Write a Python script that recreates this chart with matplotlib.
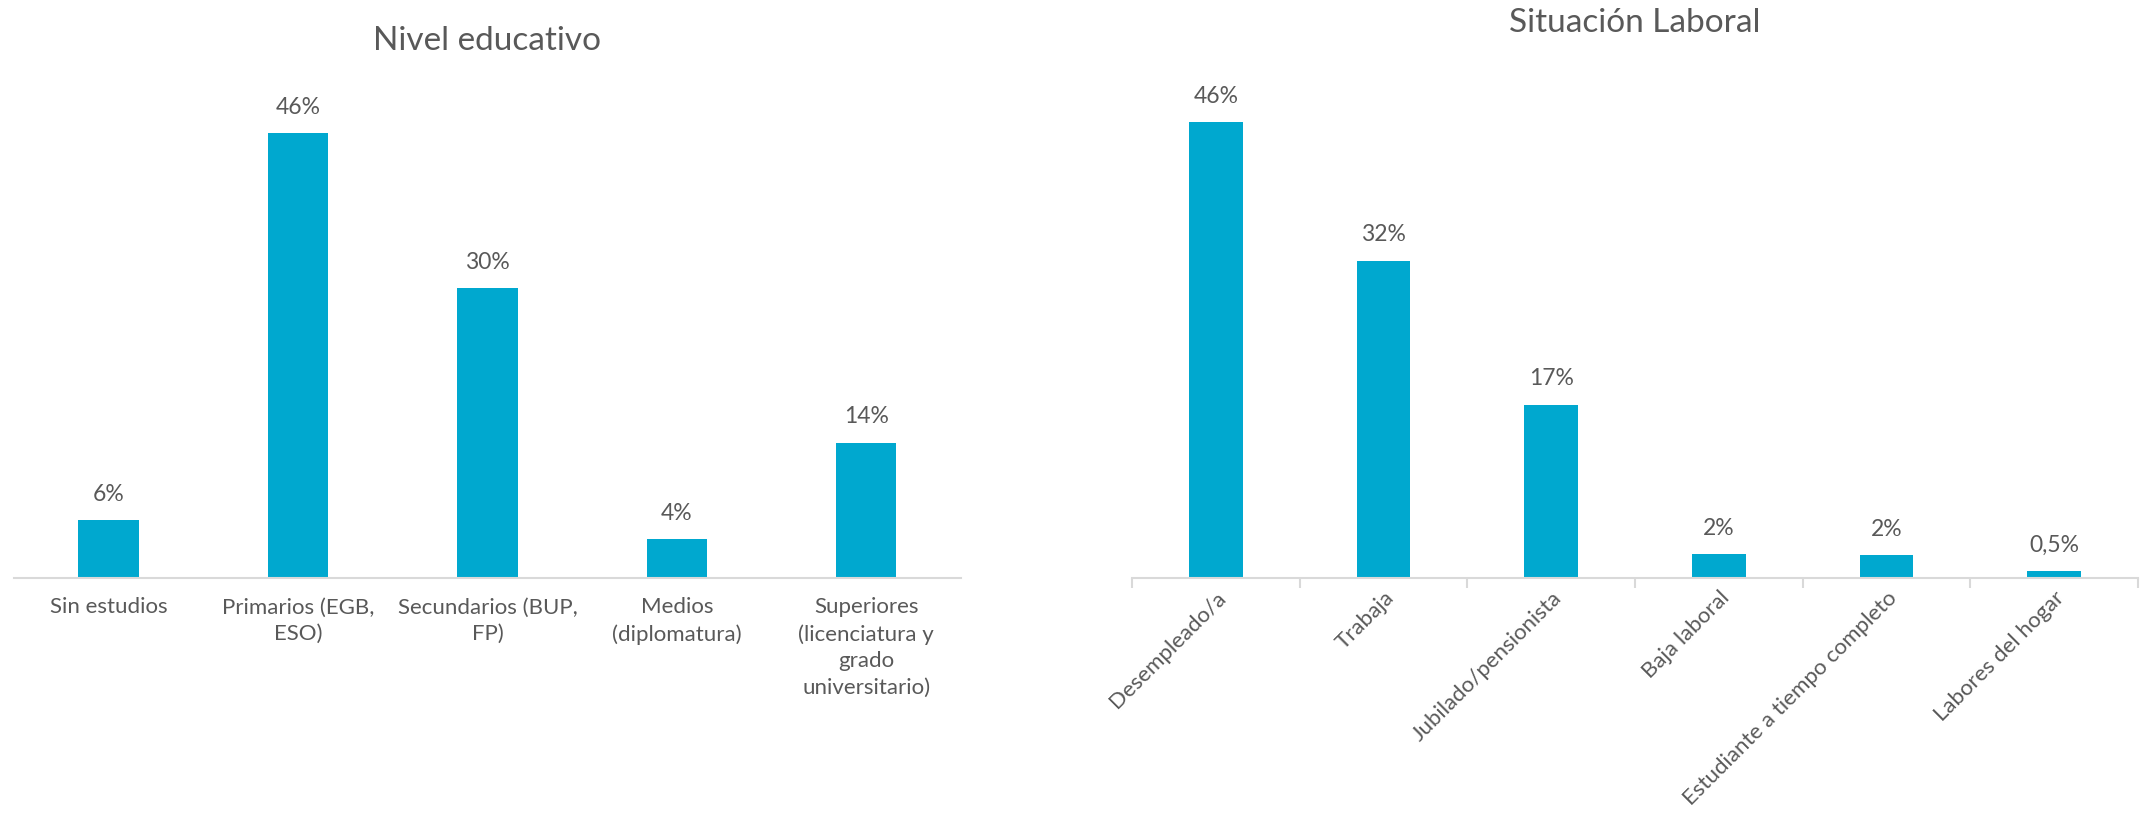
import matplotlib
matplotlib.use("Agg")
import matplotlib.pyplot as plt
import matplotlib.transforms as mtrans
import numpy as np

plt.rcParams['font.family'] = ['Lato', 'DejaVu Sans']

# datos
nivel_cat = ['Sin estudios', 'Primarios (EGB,\nESO)', 'Secundarios (BUP,\nFP)',
             'Medios\n(diplomatura)', 'Superiores\n(licenciatura y\ngrado\nuniversitario)']
nivel_val = [6, 46, 30, 4, 14]
nivel_lab = ['6%', '46%', '30%', '4%', '14%']

lab_cat = ['Desempleado/a', 'Trabaja', 'Jubilado/pensionista', 'Baja laboral',
           'Estudiante a tiempo completo', 'Labores del hogar']
lab_val = [46, 32, 17.5, 2.4, 2.3, 0.7]
lab_lab = ['46%', '32%', '17%', '2%', '2%', '0,5%']

azul = '#00A8CF'
gris = '#595959'
linea = '#D9D9D9'

fig = plt.figure(figsize=(21.52, 8.18), dpi=100)

def base(ax, n):
    for s in ['top', 'right', 'left']:
        ax.spines[s].set_visible(False)
    ax.spines['bottom'].set_color(linea)
    ax.spines['bottom'].set_linewidth(1.5)
    ax.set_yticks([])
    ax.set_xlim(-0.5, n - 0.5)
    ax.set_ylim(0, 50)

# grafico 1 - nivel educativo
ax1 = fig.add_axes([0.0065, 0.2934, 0.440, 0.591])
x1 = np.arange(len(nivel_cat))
ax1.bar(x1, nivel_val, width=0.32, color=azul)
base(ax1, len(nivel_cat))
ax1.set_xticks(x1)
ax1.set_xticklabels(nivel_cat, fontsize=16, color=gris, linespacing=1.4, va='top')
ax1.tick_params(axis='x', length=0, pad=14)
for i, v in enumerate(nivel_val):
    ax1.annotate(nivel_lab[i], (x1[i], v), xytext=(0, 11), textcoords='offset points',
                 ha='center', va='bottom', fontsize=16.5, color=gris)
fig.text(0.2265, 0.95, 'Nivel educativo', ha='center', va='center', fontsize=24, color=gris)

# grafico 2 - situacion laboral
ax2 = fig.add_axes([0.526, 0.2934, 0.4675, 0.606])
x2 = np.arange(len(lab_cat))
ax2.bar(x2, lab_val, width=0.32, color=azul)
base(ax2, len(lab_cat))
ax2.set_xticks(x2)
ax2.set_xticklabels(lab_cat, fontsize=16, color=gris, rotation=45, ha='right',
                    va='top', rotation_mode='anchor')
desplaza = mtrans.ScaledTranslation(-8 / 100, 0, fig.dpi_scale_trans)
for t in ax2.get_xticklabels():
    t.set_transform(t.get_transform() + desplaza)
ax2.tick_params(axis='x', which='major', length=0, pad=7)
ax2.set_xticks(np.arange(-0.5, len(lab_cat)), minor=True)
ax2.tick_params(axis='x', which='minor', length=7, width=1.5, color=linea)
for i, v in enumerate(lab_val):
    ax2.annotate(lab_lab[i], (x2[i], v), xytext=(0, 11), textcoords='offset points',
                 ha='center', va='bottom', fontsize=16.5, color=gris)
fig.text(0.7598, 0.972, 'Situación Laboral', ha='center', va='center', fontsize=24, color=gris)

fig.savefig('out.png', dpi=100)
